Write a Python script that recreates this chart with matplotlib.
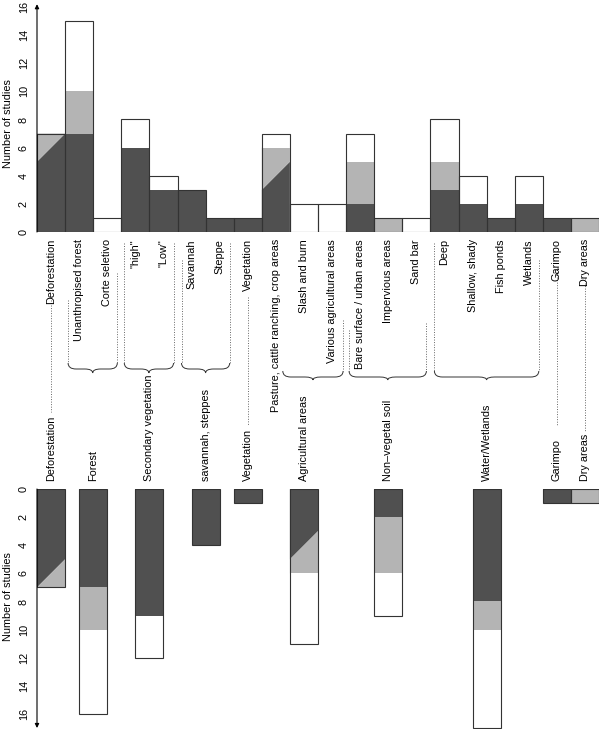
import matplotlib.pyplot as plt
from matplotlib.path import Path
from matplotlib.patches import PathPatch

plt.rcParams['font.family'] = ['Liberation Sans', 'DejaVu Sans']
FS = 7.8
DARK = '#505050'
GRAY = '#b4b4b4'
EDGE = '#333333'

# sub-categories (top panel)
sub_labels = ['Deforestation', 'Unanthropised forest', 'Corte seletivo', '"high"', '"Low"',
              'Savannah', 'Steppe', 'Vegetation', 'Pasture, cattle ranching, crop areas',
              'Slash and burn', 'Various agricultural areas', 'Bare surface / urban areas',
              'Impervious areas', 'Sand bar', 'Deep', 'Shallow, shady', 'Fish ponds',
              'Wetlands', 'Garimpo', 'Dry areas']
sub_dark_left = [5, 7, 0, 6, 3, 3, 1, 1, 3, 0, 0, 2, 0, 0, 3, 2, 1, 2, 1, 0]
sub_dark_right = [7, 7, 0, 6, 3, 3, 1, 1, 5, 0, 0, 2, 0, 0, 3, 2, 1, 2, 1, 0]
sub_gray_top = [7, 10, 0, 6, 3, 3, 1, 1, 6, 0, 0, 5, 1, 0, 5, 2, 1, 2, 1, 1]
sub_total = [7, 15, 1, 8, 4, 3, 1, 1, 7, 2, 2, 7, 1, 1, 8, 4, 1, 4, 1, 1]

# groups (bottom panel)
group_labels = ['Deforestation', 'Forest', 'Secondary vegetation', 'savannah, steppes',
                'Vegetation', 'Agricultural areas', 'Non\u2013vegetal soil', 'Water/Wetlands',
                'Garimpo', 'Dry areas']
group_members = [[0], [1, 2], [3, 4], [5, 6], [7], [8, 9, 10], [11, 12, 13],
                 [14, 15, 16, 17], [18], [19]]
grp_dark_left = [7, 7, 9, 4, 1, 5, 2, 8, 1, 0]
grp_dark_right = [5, 7, 9, 4, 1, 3, 2, 8, 1, 0]
grp_gray_top = [7, 10, 9, 4, 1, 6, 6, 10, 1, 1]
grp_total = [7, 16, 12, 4, 1, 11, 9, 17, 1, 1]

n_sub = len(sub_labels)
sub_x = list(range(n_sub))
grp_center = [(m[0] + m[-1] + 1) / 2 for m in group_members]
grp_x = [c - 0.5 for c in grp_center]


def draw_bars(ax, xs, dl, dr, gt, tot):
    for x, a, b, g, t in zip(xs, dl, dr, gt, tot):
        x0, x1 = x, x + 1
        if max(a, b) > 0:
            ax.fill([x0, x1, x1, x0], [0, 0, b, a], color=DARK, lw=0)
        if g > min(a, b):
            ax.fill([x0, x1, x1, x0], [a, b, g, g], color=GRAY, lw=0)
        if t > g:
            ax.fill([x0, x1, x1, x0], [g, g, t, t], color='white', lw=0)
    ax.bar(xs, tot, width=1, align='edge', fill=False, edgecolor=EDGE, lw=0.8)


def style_axis(ax):
    for s in ax.spines.values():
        s.set_visible(False)
    ax.set_xticks([])
    ax.set_yticks(range(0, 17, 2))
    ax.set_yticklabels([str(v) for v in range(0, 17, 2)], rotation=90, va='center')
    ax.tick_params(axis='y', length=0, pad=6, labelsize=FS)
    ax.set_xlim(0, n_sub)


fig = plt.figure(figsize=(6, 7.29), dpi=100)

# top panel
ax_top = fig.add_axes([37 / 600, (729 - 232) / 729, 562 / 600, 225 / 729])
draw_bars(ax_top, sub_x, sub_dark_left, sub_dark_right, sub_gray_top, sub_total)
style_axis(ax_top)
ax_top.set_ylim(0, 16)
ax_top.annotate('', xy=(0, 16.2), xytext=(0, 0), annotation_clip=False,
                arrowprops=dict(arrowstyle='-|>', lw=0.8, color='black',
                                mutation_scale=6, shrinkA=0, shrinkB=0))
ax_top.set_ylabel('Number of studies', fontsize=FS)
ax_top.yaxis.set_label_coords(-0.043, 0.482)

# bottom panel
ax_bot = fig.add_axes([37 / 600, 0, 562 / 600, 240 / 729])
draw_bars(ax_bot, grp_x, grp_dark_left, grp_dark_right, grp_gray_top, grp_total)
style_axis(ax_bot)
ax_bot.set_ylim(240 / 14.06, 0)
ax_bot.annotate('', xy=(0, 17.0), xytext=(0, 0), annotation_clip=False,
                arrowprops=dict(arrowstyle='-|>', lw=0.8, color='black',
                                mutation_scale=6, shrinkA=0, shrinkB=0))
ax_bot.set_ylabel('Number of studies', fontsize=FS)
ax_bot.yaxis.set_label_coords(-0.043, 0.55)

# middle: labels, braces and leaders (x in bar units, y in pixels)
ax_m = fig.add_axes([37 / 600, 0, 562 / 600, 1])
ax_m.set_xlim(0, n_sub)
ax_m.set_ylim(729, 0)
ax_m.axis('off')
ax_m.patch.set_visible(False)

for i, lab in enumerate(sub_labels):
    ax_m.text(i + 0.5, 239, lab, rotation=90, ha='center', va='top', fontsize=FS)
for c, lab in zip(grp_center, group_labels):
    ax_m.text(c, 481, lab, rotation=90, ha='center', va='bottom', fontsize=FS)

px = 562 / n_sub
dot_kw = dict(color='#666666', lw=0.7, linestyle=(0, (1, 1.6)))

# braces: (left, right, y_end, y_tip, left leader top, right leader top)
braces = [
    (1 + 3 / px, 3 - 4 / px, 363, 373, 300, 273),
    (3 + 3 / px, 5 - 4 / px, 363, 373, 243, 243),
    (5 + 4 / px, 7 - 4 / px, 363, 373, 260, 243),
    (8 + 21 / px, 11 - 3 / px, 371, 380, None, 320),
    (11 + 3 / px, 14 - 4 / px, 371, 380, 330, 323),
    (14 + 4 / px, 18 - 4 / px, 371, 380, 243, 260),
]
d = 8 / px
for x0, x1, ye, yt, lt, rt in braces:
    xc = (x0 + x1) / 2
    ym = ye + 6
    verts = [(x0, ye), (x0, ym), (x0 + d, ym), (xc - d, ym), (xc, ym), (xc, yt),
             (xc, ym), (xc + d, ym), (x1 - d, ym), (x1, ym), (x1, ye)]
    codes = [Path.MOVETO, Path.CURVE3, Path.CURVE3, Path.LINETO, Path.CURVE3, Path.CURVE3,
             Path.CURVE3, Path.CURVE3, Path.LINETO, Path.CURVE3, Path.CURVE3]
    ax_m.add_patch(PathPatch(Path(verts, codes), fill=False, lw=0.7, edgecolor='#333333'))
    if lt is not None:
        ax_m.plot([x0, x0], [lt, ye], **dot_kw)
    ax_m.plot([x1, x1], [rt, ye], **dot_kw)

# leaders for single-member groups: (bar index, top, bottom)
leaders = [(0, 300, 412), (7, 297, 425), (18, 267, 425), (19, 278, 432)]
for i, y0, y1 in leaders:
    ax_m.plot([i + 0.5, i + 0.5], [y0, y1], **dot_kw)

fig.savefig('out.png', dpi=100)
